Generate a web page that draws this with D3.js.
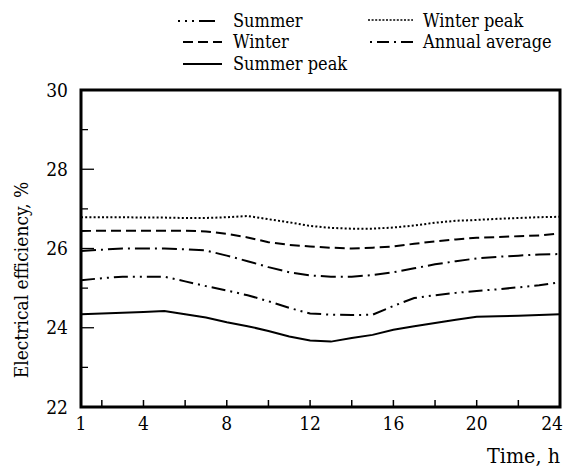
<!DOCTYPE html>
<html>
<head>
<meta charset="utf-8">
<script src="https://cdn.jsdelivr.net/npm/d3@7"></script>
<style>
  html, body { margin: 0; padding: 0; background: #fff; }
  svg { display: block; }
  svg text { font-stretch: condensed; }
</style>
</head>
<body>
<svg id="chart" width="568" height="475" font-family="'DejaVu Serif Condensed', 'DejaVu Serif', serif"></svg>
<script>
// Hourly electrical efficiency (%) over a day, hours 1..24
const hours = d3.range(1, 25);
const winterPeak = [26.79, 26.79, 26.79, 26.78, 26.78, 26.77, 26.77, 26.79, 26.82, 26.74, 26.66, 26.57,
                    26.52, 26.50, 26.50, 26.53, 26.58, 26.65, 26.70, 26.72, 26.75, 26.77, 26.79, 26.80];
const winter     = [26.44, 26.45, 26.45, 26.45, 26.45, 26.45, 26.43, 26.37, 26.28, 26.16, 26.09, 26.05,
                    26.02, 26.00, 26.02, 26.05, 26.12, 26.18, 26.23, 26.27, 26.29, 26.31, 26.33, 26.38];
const annualAvg  = [25.94, 25.97, 26.00, 26.00, 26.00, 25.98, 25.95, 25.82, 25.68, 25.53, 25.40, 25.32,
                    25.29, 25.29, 25.33, 25.40, 25.50, 25.60, 25.68, 25.75, 25.79, 25.82, 25.85, 25.86];
const summer     = [25.20, 25.25, 25.29, 25.29, 25.29, 25.17, 25.05, 24.94, 24.82, 24.67, 24.50, 24.36,
                    24.33, 24.32, 24.33, 24.55, 24.75, 24.82, 24.88, 24.93, 24.97, 25.02, 25.07, 25.15];
const summerPeak = [24.34, 24.36, 24.38, 24.40, 24.42, 24.34, 24.26, 24.14, 24.04, 23.92, 23.78, 23.68,
                    23.65, 23.74, 23.82, 23.95, 24.04, 24.12, 24.20, 24.28, 24.29, 24.30, 24.32, 24.34];

const xTickLabels = [1, 4, 8, 12, 16, 20, 24];
const xMinorTicks = [2, 4, 6, 8, 10, 12, 14, 16, 18, 20, 22];
const yTickLabels = [22, 24, 26, 28, 30];
const yMinorTicks = [23, 24, 25, 26, 27, 28, 29];

const seriesNames = ["Summer", "Winter", "Summer peak", "Winter peak", "Annual average"];

const svg = d3.select("#chart");
const x = d3.scaleLinear().domain([1, 24]).range([81, 560]);
const y = d3.scaleLinear().domain([22, 30]).range([407, 90]);

// line styles per series
const styles = {
  "Summer":         { dash: "14 5 2 5 2 5", legendDash: "2 5 2 5 2 5 16 40" },
  "Winter":         { dash: "10 5",         legendDash: "10 5" },
  "Summer peak":    { dash: null,           legendDash: null },
  "Winter peak":    { dash: "2 2.2",        legendDash: "2 1.6" },
  "Annual average": { dash: "15 5 2 5",     legendDash: "2 5 12 5 2 5 12 40" }
};
const seriesData = {
  "Summer": summer, "Winter": winter, "Summer peak": summerPeak,
  "Winter peak": winterPeak, "Annual average": annualAvg
};

// inward ticks on the left axis
svg.append("g").selectAll("line").data(yMinorTicks).join("line")
  .attr("x1", x(1)).attr("x2", d => x(1) + (d % 2 === 0 ? 13 : 7))
  .attr("y1", d => y(d)).attr("y2", d => y(d))
  .attr("stroke", "#000").attr("stroke-width", 1.3);

// inward ticks on the bottom axis
svg.append("g").selectAll("line").data(xMinorTicks).join("line")
  .attr("x1", d => x(d)).attr("x2", d => x(d))
  .attr("y1", y(22)).attr("y2", y(22) - 7)
  .attr("stroke", "#000").attr("stroke-width", 1.5);

// data lines
const line = d3.line().x((d, i) => x(hours[i])).y(d => y(d));
const lineOrder = ["Winter peak", "Winter", "Annual average", "Summer", "Summer peak"];
svg.append("g").selectAll("path").data(lineOrder).join("path")
  .attr("d", k => line(seriesData[k]))
  .attr("fill", "none").attr("stroke", "#000").attr("stroke-width", 2)
  .attr("stroke-dasharray", k => styles[k].dash);

// frame
svg.append("rect")
  .attr("x", x(1)).attr("y", y(30))
  .attr("width", x(24) - x(1)).attr("height", y(22) - y(30))
  .attr("fill", "none").attr("stroke", "#000").attr("stroke-width", 3);

// y tick labels
svg.append("g").selectAll("text").data(yTickLabels).join("text")
  .attr("x", 68).attr("y", d => y(d)).attr("dy", "0.35em")
  .attr("text-anchor", "end").attr("font-size", 19).text(d => d);

// x tick labels (the last one is pulled in so it stays inside the page)
const last = xTickLabels[xTickLabels.length - 1];
svg.append("g").selectAll("text").data(xTickLabels).join("text")
  .attr("x", d => d === last ? x(d) + 3 : x(d)).attr("y", 430)
  .attr("text-anchor", d => d === last ? "end" : "middle")
  .attr("font-size", 19).text(d => d);

// axis titles
svg.append("text").attr("x", 560).attr("y", 463)
  .attr("text-anchor", "end").attr("font-size", 20)
  .attr("textLength", 73).attr("lengthAdjust", "spacingAndGlyphs")
  .text("Time, h");
svg.append("text")
  .attr("transform", "translate(28,280) rotate(-90)")
  .attr("text-anchor", "middle").attr("font-size", 19).text("Electrical efficiency, %");

// legend
const legendPos = [
  { name: "Summer",         x1: 178, x2: 222, y: 21, tx: 233, ty: 27 },
  { name: "Winter",         x1: 183, x2: 222, y: 42, tx: 233, ty: 48 },
  { name: "Summer peak",    x1: 183, x2: 222, y: 64, tx: 233, ty: 70 },
  { name: "Winter peak",    x1: 368, x2: 413, y: 20, tx: 423, ty: 27 },
  { name: "Annual average", x1: 370, x2: 413, y: 42, tx: 423, ty: 48 }
];
const lg = svg.append("g").selectAll("g").data(legendPos).join("g");
lg.append("line")
  .attr("x1", d => d.x1).attr("x2", d => d.x2)
  .attr("y1", d => d.y).attr("y2", d => d.y)
  .attr("stroke", "#000").attr("stroke-width", d => d.name === "Winter peak" ? 1.5 : 2)
  .attr("stroke-dasharray", d => styles[d.name].legendDash);
lg.append("text")
  .attr("x", d => d.tx).attr("y", d => d.ty)
  .attr("font-size", 18).text(d => d.name);
</script>
</body>
</html>
